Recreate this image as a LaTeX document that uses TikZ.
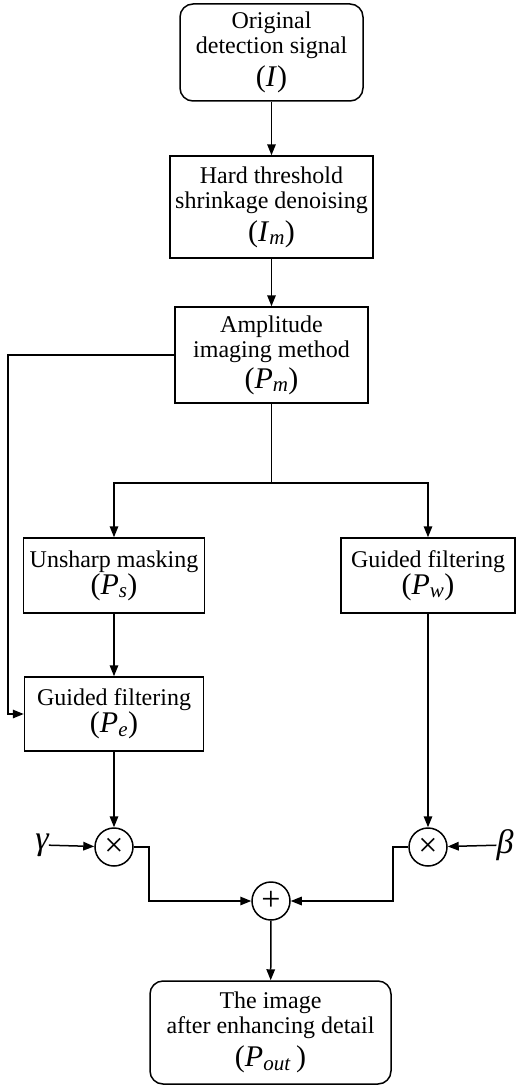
\documentclass[tikz,border=0pt]{standalone}
\usepackage{fontspec}
\setmainfont{Liberation Serif}
\usetikzlibrary{arrows.meta}

\newcommand{\fml}[1]{{\fontsize{30}{30}\selectfont #1}}
\newcommand{\sub}[1]{\textsubscript{\textit{#1}}}

\tikzset{
  blk/.style={draw, line width=1.5pt, align=center, inner sep=0pt,
    font=\fontsize{24}{25}\selectfont},
  rblk/.style={blk, rounded corners=13pt},
  opc/.style={draw, circle, line width=1.5pt, minimum size=38pt, inner sep=0pt,
    font=\fontsize{34}{34}\selectfont},
  arr/.style={line width=1.5pt, -{Triangle[length=11pt,width=8.5pt]}},
  lbl/.style={font=\fontsize{34}{34}\selectfont\itshape, inner sep=0pt}
}

\begin{document}
\begin{tikzpicture}[x=1pt,y=-1pt]
				\useasboundingbox (0,0) rectangle (526,1089);
				
				\node[rblk, minimum width=183pt, minimum height=97pt] (orig) at (271.5,52.5)
				  {Original\\detection signal\\[6pt]\fml{(\textit{I})}};
				\node[blk, minimum width=203pt, minimum height=102pt] (hard) at (271.5,207)
				  {Hard threshold\\shrinkage denoising\\[6pt]\fml{(\textit{I}\sub{m})}};
				\node[blk, minimum width=193pt, minimum height=96pt] (ampl) at (271.5,355)
				  {Amplitude\\imaging method\\[4pt]\fml{(\textit{P}\sub{m})}};
				
				\node[blk, minimum width=181pt, minimum height=75pt] (unsh) at (114,575.5)
				  {Unsharp masking\\\fml{(\textit{P}\sub{s})}};
				\node[blk, minimum width=174pt, minimum height=75pt] (gfr) at (428,575.5)
				  {Guided filtering\\\fml{(\textit{P}\sub{w})}};
				\node[blk, minimum width=179pt, minimum height=74pt] (gfl) at (114,714)
				  {Guided filtering\\\fml{(\textit{P}\sub{e})}};
				
				\node[opc] (mull) at (114,847) {×};
				\node[opc] (mulr) at (428,847) {×};
				\node[opc] (plus) at (271,901) {+};
				\node[lbl] (gamma) at (42,845) {γ};
				\node[lbl] (beta) at (505,845) {β};
				
				\node[rblk, minimum width=241pt, minimum height=103pt] (out) at (270.5,1032.5)
				  {The image\\after enhancing detail\\[6pt]\fml{(\textit{P}\sub{out}\,)}};
				
				\coordinate (split) at (271.5,483);
				\coordinate (lft) at (8,355);
				\coordinate (kl) at (149,847);
				\coordinate (kr) at (393,847);
				
				\draw[arr] (orig) -- (hard);
				\draw[arr] (hard) -- (ampl);
				\draw[line width=1.5pt] (ampl) -- (split);
				\draw[arr] (split) -| (unsh);
				\draw[arr] (split) -| (gfr);
				\draw[arr] (ampl.west) -- (lft) |- (gfl.west);
				\draw[arr] (unsh) -- (gfl);
				\draw[arr] (gfl) -- (mull);
				\draw[arr] (gfr) -- (mulr);
				\draw[arr] (gamma) -- (mull);
				\draw[arr] (beta) -- (mulr);
				\draw[arr] (mull) -- (kl) |- (plus);
				\draw[arr] (mulr) -- (kr) |- (plus);
				\draw[arr] (plus) -- (out);
			\end{tikzpicture}
\end{document}
